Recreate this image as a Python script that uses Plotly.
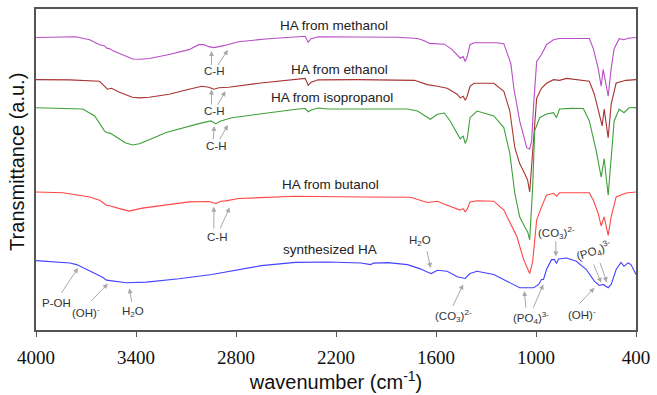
import plotly.graph_objects as go

# ---------------- data (wavenumber in cm-1, transmittance in arbitrary offset units) ----------------
wn_methanol = [4000, 3762, 3678, 3619, 3590, 3575, 3560, 3540, 3499, 3420, 3380, 3321, 3201, 3082, 3023, 2993,
               2963, 2933, 2903, 2874, 2784, 2605, 2427, 2385, 2367, 2349, 2307, 2069, 1831, 1711, 1670, 1640,
               1550, 1503, 1467, 1455, 1437, 1425, 1413, 1396, 1372, 1235, 1193, 1175, 1151, 1133, 1115, 1098,
               1074, 1056, 1038, 1026, 1014, 996, 967, 937, 895, 859, 680, 656, 627, 609, 597, 567, 549, 531,
               501, 472, 448, 400]
t_methanol = [295.3, 296, 293, 288, 287, 284.5, 284, 282, 279, 273.5, 273.3, 274, 278, 283, 288, 288,
              286, 285, 286, 287, 291, 294, 296, 296.5, 290.5, 294, 296, 296, 295.5, 294.3, 292, 289.3,
              288.5, 283, 276, 274.3, 276, 271, 276, 288, 290, 290, 289, 281, 269, 244, 226, 211,
              196, 184, 182.7, 191, 228, 271, 278, 288, 293, 294.3, 294.3, 284, 264, 246, 263, 236, 264, 284,
              294, 293, 294.5, 295.3]

wn_ethanol = [4000, 3797, 3619, 3589, 3571, 3547, 3499, 3422, 3380, 3321, 3201, 3082, 3005, 2963, 2933, 2903,
              2844, 2665, 2427, 2385, 2367, 2349, 2307, 2069, 1729, 1652, 1592, 1533, 1473, 1455, 1437, 1425,
              1413, 1396, 1372, 1253, 1193, 1157, 1127, 1098, 1068, 1050, 1038, 1020, 996, 967, 937, 895,
              859, 817, 680, 650, 621, 603, 591, 567, 549, 519, 460, 400]
t_ethanol = [252.7, 252.5, 251, 246, 243, 244, 240, 235, 234.3, 235, 238, 243, 246, 245, 243, 244.5,
             245, 249, 253.5, 254, 247, 250, 252.5, 252.7, 252, 247.7, 246, 244, 238, 234.3, 236, 232,
             236, 246, 249, 249, 241, 221, 184, 168, 158, 151, 139.3, 178, 234, 244, 249, 252.7,
             252, 254, 251, 238, 218, 206, 223, 194, 228, 249.3, 252, 252.7]

wn_isopropanol = [4000, 3720, 3648, 3619, 3589, 3577, 3553, 3511, 3464, 3422, 3380, 3321, 3219, 3023, 2951, 2921,
                  2891, 2826, 2665, 2427, 2385, 2367, 2349, 2307, 2248, 1771, 1711, 1664, 1634, 1592, 1550, 1515,
                  1473, 1455, 1437, 1425, 1413, 1396, 1354, 1253, 1193, 1157, 1127, 1098, 1068, 1050, 1038, 1020,
                  1008, 978, 937, 895, 877, 859, 788, 716, 680, 639, 609, 591, 567, 549, 531, 501, 472, 442, 400]
t_isopropanol = [224.3, 223, 216, 208, 201, 199.3, 198.5, 194, 189, 186.7, 188, 192, 199.3, 208.3, 211, 208.3,
                 211, 214.3, 218, 223, 223.5, 220.3, 222, 224, 223, 223, 221, 216, 212.7, 217.7, 219, 211,
                 198, 193, 196, 188.3, 193, 214.3, 221, 216, 204.3, 178, 138, 114.3, 104.3, 99, 91, 144,
                 201, 214.3, 218, 219.3, 214.3, 223, 223.7, 223.5, 211, 181, 154.3, 173, 136, 171, 211, 223,
                 219.3, 224.3, 224.5]

wn_butanol = [4000, 3839, 3678, 3619, 3577, 3547, 3499, 3440, 3362, 3243, 3082, 2963, 2921, 2891, 2862, 2784,
              2444, 2051, 1753, 1652, 1592, 1533, 1473, 1455, 1437, 1425, 1413, 1396, 1354, 1253, 1193, 1157,
              1115, 1074, 1050, 1038, 1020, 996, 967, 937, 895, 877, 859, 680, 656, 627, 609, 591, 567, 549,
              519, 460, 400]
t_butanol = [139.3, 138.5, 134.3, 131, 126, 125, 122.5, 120, 123, 126, 129.3, 129.7, 127.7, 130, 130.3, 132.7,
             135, 134.3, 134, 128.7, 130, 126, 122, 121, 122.5, 119.3, 122, 129.3, 130.5, 130, 121, 108,
             94.3, 71, 61, 57, 69, 111, 124.3, 136, 138, 135, 138.5, 138.5, 131, 117.7, 105, 114.3, 95.5, 114.3,
             134.3, 138.3, 139.3]

wn_synth = [4000, 3797, 3756, 3678, 3601, 3577, 3541, 3458, 3338, 3142, 2945, 2784, 2647, 2444, 2248, 2051,
            2010, 1992, 1974, 1890, 1771, 1694, 1646, 1628, 1592, 1533, 1473, 1425, 1396, 1354, 1253, 1157,
            1098, 1014, 984, 967, 955, 937, 907, 889, 877, 865, 817, 758, 698, 650, 621, 597, 567, 549,
            519, 490, 472, 448, 430, 400]
t_synth = [70, 67.7, 66, 59.3, 53.3, 50.3, 49.5, 47.7, 48.3, 51.7, 56, 61, 65, 68.3, 68.7, 67.7,
           66.5, 66, 67.5, 68, 66, 61.7, 58, 57, 60.3, 59.3, 53.7, 52, 57, 59.3, 56, 47.7,
           42.7, 42.7, 46, 51, 51, 61, 71, 71, 67, 71.7, 72.7, 69.3, 61, 49.3, 45, 46, 42.7, 46,
           61, 68.3, 64.3, 67.7, 66, 56]

series_names = ["HA from methanol", "HA from ethanol", "HA from isopropanol", "HA from butanol", "synthesized HA"]
series_colors = ["#b84ec6", "#a83434", "#3f9f3a", "#ff4545", "#4242ff"]

x_ticks = [4000, 3400, 2800, 2200, 1600, 1000, 400]

# label texts and positions (wavenumber, value)
curve_labels = [("HA from methanol", 2212, 307), ("HA from ethanol", 2182, 263.3),
                ("HA from isopropanol", 2224, 234.3), ("HA from butanol", 2236, 147),
                ("synthesized HA", 2236, 81)]

# small assignment labels: text, x, y, angle
band_labels = [
    ("C-H", 2933, 261, 0), ("C-H", 2933, 221, 0), ("C-H", 2923, 185.3, 0), ("C-H", 2913, 94.3, 0),
    ("P-OH", 3875, 27.7, 0), ("(OH)<sup>-</sup>", 3702, 18.3, 0), ("H<sub>2</sub>O", 3416, 17.7, 0),
    ("H<sub>2</sub>O", 1695, 90.3, 0), ("(CO<sub>3</sub>)<sup>2-</sup>", 1497, 14.3, 0),
    ("(PO<sub>4</sub>)<sup>3-</sup>", 1032, 12, 0), ("(CO<sub>3</sub>)<sup>2-</sup>", 877, 97.7, 0),
    ("(PO<sub>4</sub>)<sup>3-</sup>", 650, 79.3, -18), ("(OH)<sup>-</sup>", 722, 16, 0),
]

# arrows: (tail x, tail y, head x, head y)
arrows = [
    (2947, 266, 2947, 281.7), (2915, 266, 2848, 282.7),
    (2947, 226, 2947, 242.7), (2915, 226, 2863, 241),
    (2937, 191, 2931, 206), (2903, 191, 2848, 207),
    (2933, 101, 2933, 124.3), (2899, 101, 2838, 123.7),
    (3853, 36, 3748, 62.7), (3678, 27.7, 3569, 46.7), (3424, 27, 3440, 42),
    (1656, 81, 1632, 62.7), (1503, 22.7, 1437, 46),
    (1060, 21, 1070, 39.3), (1020, 21, 956, 46),
    (881, 91, 881, 74.3),
    (658, 67.7, 609, 47.7), (619, 69.3, 575, 48.3),
    (748, 25, 649, 42.7),
]

# ---------------- figure ----------------
fig = go.Figure()
all_wn = [wn_methanol, wn_ethanol, wn_isopropanol, wn_butanol, wn_synth]
all_t = [t_methanol, t_ethanol, t_isopropanol, t_butanol, t_synth]
for name, col, xs, ys in zip(series_names, series_colors, all_wn, all_t):
    fig.add_trace(go.Scatter(x=xs, y=ys, mode="lines", name=name,
                             line=dict(color=col, width=1.1), showlegend=False))

annotations = []
for txt, x, y in curve_labels:
    annotations.append(dict(x=x, y=y, xref="x", yref="y", text=txt, showarrow=False,
                            font=dict(family="Arial, Liberation Sans, sans-serif", size=13.5, color="#222")))
for txt, x, y, ang in band_labels:
    annotations.append(dict(x=x, y=y, xref="x", yref="y", text=txt, showarrow=False, textangle=ang,
                            font=dict(family="Arial, Liberation Sans, sans-serif", size=11.5, color="#333")))
for tx, ty, hx, hy in arrows:
    annotations.append(dict(x=hx, y=hy, ax=tx, ay=ty, xref="x", yref="y", axref="x", ayref="y",
                            text="", showarrow=True, arrowhead=2, arrowsize=1, arrowwidth=1,
                            arrowcolor="#a8a8a8", standoff=0, startstandoff=0))
# y-axis title as annotation (positioned slightly above the plot centre, as in the reference)
annotations.append(dict(x=-0.031, y=0.525, xref="paper", yref="paper", text="Transmittance (a.u.)",
                        showarrow=False, textangle=-90, xanchor="center", yanchor="middle",
                        font=dict(family="Arial, Liberation Sans, sans-serif", size=20, color="#111")))

fig.update_layout(
    width=657, height=395,
    margin=dict(l=36, r=17, t=7, b=64),
    paper_bgcolor="white", plot_bgcolor="white",
    annotations=annotations,
)
fig.update_xaxes(range=[4000, 400], tickvals=x_ticks, ticktext=[str(v) for v in x_ticks],
                 ticks="outside", ticklen=5, tickwidth=1.2, tickcolor="#555",
                 showline=True, linecolor="#555", linewidth=1.5, mirror=True,
                 showgrid=False, zeroline=False,
                 tickfont=dict(family="Liberation Serif, Times New Roman, serif", size=19, color="#111"),
                 ticklabelstandoff=4,
                 title=dict(text="wavenumber (cm<sup>-1</sup>)", standoff=6,
                            font=dict(family="Arial, Liberation Sans, sans-serif", size=20, color="#111")))
fig.update_yaxes(range=[0, 324], showticklabels=False, ticks="",
                 showline=True, linecolor="#555", linewidth=1.5, mirror=True,
                 showgrid=False, zeroline=False)

fig.write_html("out.html")
